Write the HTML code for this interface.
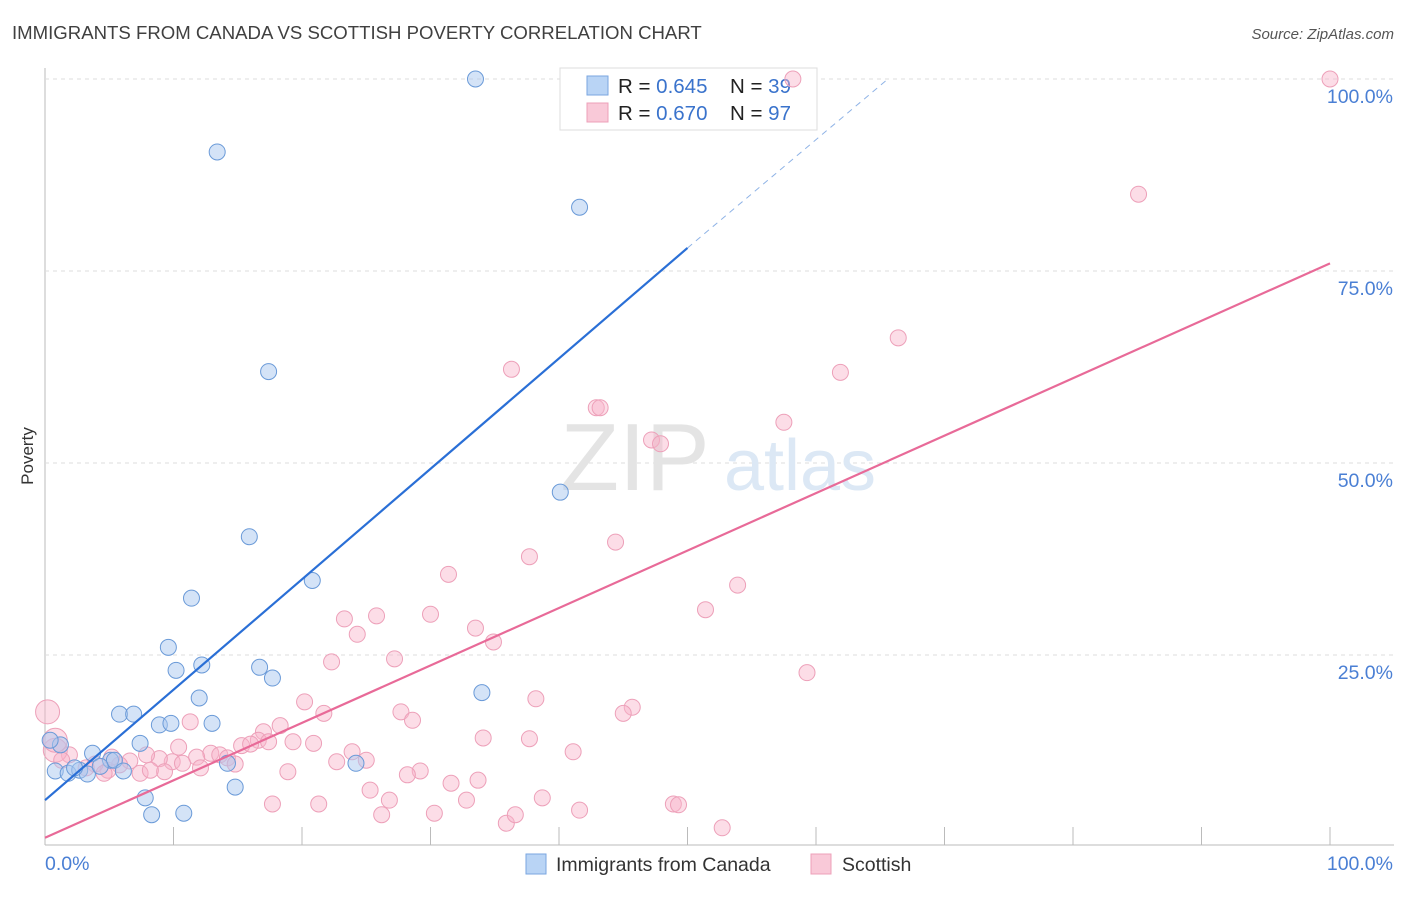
<!DOCTYPE html>
<html><head><meta charset="utf-8"><style>
body{margin:0;background:#fff;font-family:"Liberation Sans",sans-serif;}
svg text{font-family:"Liberation Sans",sans-serif;}
</style></head><body>
<svg id="chart" width="1406" height="892" xmlns="http://www.w3.org/2000/svg">
<text x="12" y="39" font-size="18.6" fill="#404040">IMMIGRANTS FROM CANADA VS SCOTTISH POVERTY CORRELATION CHART</text>
<text x="1394" y="39" font-size="15" fill="#555" font-style="italic" text-anchor="end">Source: ZipAtlas.com</text>
<g id="grid"></g>
<g>
<text x="635" y="490" font-size="96" fill="#e4e4e4" text-anchor="middle" font-family="Liberation Serif,serif">ZIP</text>
<text x="800" y="490" font-size="72" fill="#dce8f5" text-anchor="middle">atlas</text>
</g>
<text transform="translate(33,456) rotate(-90)" font-size="17" fill="#333" text-anchor="middle">Poverty</text>
<g>
<rect x="560" y="68" width="257" height="62" fill="#fff" stroke="#ddd"/>
<rect x="587" y="76" width="21" height="19" fill="#b9d4f5" stroke="#7aa6e0"/>
<rect x="587" y="103" width="21" height="19" fill="#f9c9d8" stroke="#eda0b9"/>
<text x="618" y="93" font-size="20.5" fill="#222">R = <tspan fill="#3a73cc">0.645</tspan></text>
<text x="730" y="93" font-size="20.5" fill="#222">N = <tspan fill="#3a73cc">39</tspan></text>
<text x="618" y="120" font-size="20.5" fill="#222">R = <tspan fill="#3a73cc">0.670</tspan></text>
<text x="730" y="120" font-size="20.5" fill="#222">N = <tspan fill="#3a73cc">97</tspan></text>
</g>
<g id="marks"></g>
<g>
<rect x="526" y="854" width="20" height="20" fill="#b9d4f5" stroke="#7aa6e0"/>
<text x="556" y="871" font-size="19.5" fill="#333">Immigrants from Canada</text>
<rect x="811" y="854" width="20" height="20" fill="#f9c9d8" stroke="#eda0b9"/>
<text x="842" y="871" font-size="19.5" fill="#333">Scottish</text>
</g>
</svg>
<script>
const blueX=[33.5,13.4,41.6,17.4,40.1,15.9,20.8,11.4,9.6,10.2,12.2,16.7,17.7,34.0,12.0,5.8,6.9,8.9,9.8,13.0,7.4,3.7,5.1,5.4,0.8,1.8,2.7,3.3,4.3,6.1,14.2,24.2,7.8,8.3,10.8,14.8,1.2,0.4,2.3];
const blueY=[100,90.5,83.3,61.9,46.2,40.4,34.7,32.4,26.0,23.0,23.7,23.4,22.0,20.1,19.4,17.3,17.3,15.9,16.1,16.1,13.5,12.2,11.3,11.3,9.9,9.6,10.0,9.5,10.5,9.9,10.9,10.9,6.4,4.2,4.4,7.8,13.3,13.9,10.3];
const pinkX=[100,58.2,85.1,66.4,36.3,61.9,42.9,43.2,57.5,47.2,47.9,44.4,37.7,31.4,53.9,51.4,23.3,25.8,30.0,24.3,33.5,34.9,22.3,27.2,59.3,20.2,38.2,45.7,45.0,21.7,27.7,28.6,11.3,18.3,17.0,16.6,15.3,16.0,19.3,20.9,17.4,10.4,12.9,13.6,14.2,11.8,9.9,8.9,7.9,6.6,5.8,4.9,3.9,1.9,0.8,0.2,0.8,34.1,37.7,41.1,23.9,25.0,22.7,18.9,14.8,12.1,10.7,9.3,7.4,4.6,29.2,28.2,31.6,33.7,25.3,26.8,32.8,38.7,17.7,21.3,26.2,30.3,35.9,36.6,41.6,48.9,49.3,52.7,8.2,3.2,1.3,5.2];
const pinkY=[100,100,85.0,66.3,62.2,61.8,57.2,57.2,55.3,53.0,52.5,39.7,37.8,35.5,34.1,30.9,29.7,30.1,30.3,27.7,28.5,26.7,24.1,24.5,22.7,18.9,19.3,18.2,17.4,17.4,17.6,16.5,16.3,15.8,15.0,13.9,13.2,13.4,13.7,13.5,13.7,13.0,12.2,12.0,11.6,11.7,11.1,11.5,12.0,11.2,10.7,10.0,10.8,12.0,12.6,17.6,13.9,14.2,14.1,12.4,12.4,11.3,11.1,9.8,10.8,10.3,10.9,9.8,9.6,9.6,9.9,9.4,8.3,8.7,7.4,6.1,6.1,6.4,5.6,5.6,4.2,4.4,3.1,4.2,4.8,5.6,5.5,2.5,10.0,10.3,11.3,11.7];
const blueLine=[0,6.1,50,78,65.6,100];
const pinkLine=[0,1.2,100,76];
const yTicks=[25,50,75,100];
const xTickVals=[10,20,30,40,50,60,70,80,90,100];
const NS="http://www.w3.org/2000/svg";
const sx=v=>45+v*12.85, sy=v=>847-v*7.68;
const grid=document.getElementById('grid'), marks=document.getElementById('marks');
function mk(p,tag,a){const e=document.createElementNS(NS,tag);for(const k in a)e.setAttribute(k,a[k]);p.appendChild(e);return e;}
const ax=mk(grid,'line',{x1:45,y1:68,x2:45,y2:845,stroke:'#bbb'});


const bx=mk(grid,'line',{x1:45,y1:845,x2:1394,y2:845,stroke:'#bbb'});


yTicks.forEach(t=>{
 const g=mk(grid,'line',{x1:45,y1:sy(t),x2:1394,y2:sy(t),stroke:'#ddd','stroke-dasharray':'4,4'});
 
 
 const l=mk(grid,'text',{x:1393,y:sy(t)+24,'font-size':19.5,fill:'#4a7fd4','text-anchor':'end'});l.textContent=t.toFixed(1)+'%';
 
 
});
xTickVals.forEach(t=>{
 const k=mk(grid,'line',{x1:sx(t),y1:827,x2:sx(t),y2:845,stroke:'#bbb'});
 
 
});
const x0=mk(grid,'text',{x:45,y:870,'font-size':19.5,fill:'#4a7fd4'});x0.textContent='0.0%';


const x1=mk(grid,'text',{x:1393,y:870,'font-size':19.5,fill:'#4a7fd4','text-anchor':'end'});x1.textContent='100.0%';


pinkX.forEach((x,i)=>{
 const big=x<1&&pinkY[i]>12;
 const c=mk(marks,'circle',{cx:sx(x),cy:sy(pinkY[i]),r:big?12:8,fill:'rgba(248,180,202,0.45)',stroke:'#eda0b9','stroke-width':1});
 
 
});
blueX.forEach((x,i)=>{
 const c=mk(marks,'circle',{cx:sx(x),cy:sy(blueY[i]),r:8,fill:'rgba(170,200,240,0.5)',stroke:'#6a9ad8','stroke-width':1});
 
 
});
const bl=mk(marks,'line',{x1:sx(blueLine[0]),y1:sy(blueLine[1]),x2:sx(blueLine[2]),y2:sy(blueLine[3]),stroke:'#2a6fd6','stroke-width':2.2});


const bd=mk(marks,'line',{x1:sx(blueLine[2]),y1:sy(blueLine[3]),x2:sx(blueLine[4]),y2:sy(blueLine[5]),stroke:'#8fb3e6','stroke-width':1,'stroke-dasharray':'6,5'});


const pl=mk(marks,'line',{x1:sx(pinkLine[0]),y1:sy(pinkLine[1]),x2:sx(pinkLine[2]),y2:sy(pinkLine[3]),stroke:'#e86a98','stroke-width':2.2});


</script>
</body></html>
